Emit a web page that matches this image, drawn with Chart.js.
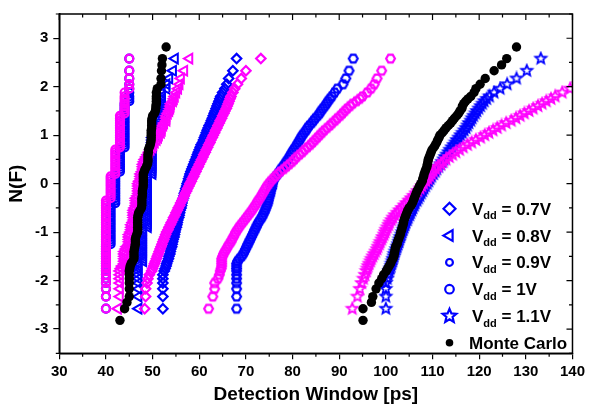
<!DOCTYPE html>
<html>
<head>
<meta charset="utf-8">
<script src="https://cdn.jsdelivr.net/npm/chart.js@4/dist/chart.umd.min.js"></script>
<style>
  html, body { margin: 0; padding: 0; background: #fff; }
  #wrap { width: 589px; height: 408px; }
</style>
</head>
<body>
<div id="wrap"><canvas id="chart" width="589" height="408"></canvas></div>
<script>
// Normal quantile levels N(F) shared by the Vdd series
const nLevels = [
  -2.58, -2.33, -2.17, -2.05, -1.96, -1.88, -1.8, -1.75, -1.7, -1.65,
  -1.6, -1.55, -1.5, -1.45, -1.4, -1.35, -1.3, -1.25, -1.2, -1.15,
  -1.1, -1.05, -1.0, -0.95, -0.9, -0.85, -0.8, -0.75, -0.7, -0.65,
  -0.6, -0.55, -0.5, -0.45, -0.4, -0.35, -0.3, -0.25, -0.2, -0.15,
  -0.1, -0.05, 0, 0.05, 0.1, 0.15, 0.2, 0.25, 0.3, 0.35,
  0.4, 0.45, 0.5, 0.55, 0.6, 0.65, 0.7, 0.75, 0.8, 0.85,
  0.9, 0.95, 1.0, 1.05, 1.1, 1.15, 1.2, 1.25, 1.3, 1.35,
  1.4, 1.45, 1.5, 1.55, 1.6, 1.65, 1.7, 1.75, 1.8, 1.88,
  1.96, 2.05, 2.17, 2.33, 2.58
];

// Monte Carlo has a few more points in the tails
const mcLevels = [
  -2.82, -2.58, -2.45, -2.33, -2.17, -2.05, -1.96, -1.88, -1.8, -1.75,
  -1.7, -1.65, -1.6, -1.55, -1.5, -1.45, -1.4, -1.35, -1.3, -1.25,
  -1.2, -1.15, -1.1, -1.05, -1.0, -0.95, -0.9, -0.85, -0.8, -0.75,
  -0.7, -0.65, -0.6, -0.55, -0.5, -0.45, -0.4, -0.35, -0.3, -0.25,
  -0.2, -0.15, -0.1, -0.05, 0, 0.05, 0.1, 0.15, 0.2, 0.25,
  0.3, 0.35, 0.4, 0.45, 0.5, 0.55, 0.6, 0.65, 0.7, 0.75,
  0.8, 0.85, 0.9, 0.95, 1.0, 1.05, 1.1, 1.15, 1.2, 1.25,
  1.3, 1.35, 1.4, 1.45, 1.5, 1.55, 1.6, 1.65, 1.7, 1.75,
  1.8, 1.88, 1.96, 2.05, 2.17, 2.33, 2.45, 2.58, 2.82
];

// detection window [ps] per level
const vdd07Blue = [
  52.2, 52.2, 52.2, 52.2, 52.2, 52.2, 52.5, 52.7, 52.9, 53.0,
  53.2, 53.4, 53.5, 53.7, 53.8, 53.9, 54.1, 54.2, 54.3, 54.4,
  54.6, 54.7, 54.8, 54.9, 55.1, 55.2, 55.3, 55.4, 55.6, 55.7,
  55.8, 55.9, 56.1, 56.2, 56.3, 56.4, 56.6, 56.7, 56.8, 57.0,
  57.1, 57.3, 57.4, 57.6, 57.7, 57.9, 58.0, 58.2, 58.4, 58.6,
  58.8, 59.0, 59.2, 59.4, 59.6, 59.8, 60.0, 60.2, 60.4, 60.7,
  60.9, 61.1, 61.3, 61.5, 61.7, 61.9, 62.1, 62.4, 62.6, 62.8,
  63.0, 63.2, 63.4, 63.6, 63.8, 64.0, 64.2, 64.4, 64.6, 65.0,
  65.5, 65.9, 66.3, 67.2, 68
];
const vdd07Magenta = [
  48.3, 48.5, 48.5, 48.8, 49.0, 49.3, 49.8, 50.0, 50.2, 50.4,
  50.6, 50.8, 51.0, 51.2, 51.4, 51.6, 51.8, 52.0, 52.2, 52.4,
  52.6, 52.8, 53.0, 53.3, 53.5, 53.8, 54.0, 54.3, 54.5, 54.8,
  55.0, 55.3, 55.5, 55.8, 56.0, 56.3, 56.5, 56.8, 57.0, 57.3,
  57.5, 57.8, 58.0, 58.3, 58.5, 58.8, 59.0, 59.3, 59.5, 59.8,
  60.0, 60.3, 60.5, 60.8, 61.0, 61.3, 61.5, 61.8, 62.0, 62.3,
  62.5, 62.8, 63.0, 63.3, 63.5, 63.8, 64.0, 64.3, 64.5, 64.8,
  65.0, 65.3, 65.5, 65.8, 66.0, 66.2, 66.4, 66.6, 66.8, 67.2,
  67.6, 68.2, 69.0, 70.0, 73.2
];
const vdd08Blue = [
  47, 47, 47, 47, 47, 47, 47, 47, 47, 47,
  48, 48, 48, 48, 48, 48, 48, 48, 48, 48,
  48, 48, 48, 48, 49, 49, 49, 49, 49, 49,
  49, 49, 49, 49, 49, 49, 49, 49, 49, 49,
  49, 49, 49, 49, 49, 49, 50, 50, 50, 50,
  50, 50, 50, 50, 50, 50, 50, 50, 50, 50,
  50, 50, 51, 51, 51, 51, 51, 51, 51, 51,
  52, 52, 52, 52, 52, 52, 52, 52, 52, 52,
  53, 53, 53.6, 54.4, 54.8
];
const vdd08Magenta = [
  42.6, 43, 43, 43, 43, 43, 43, 43.3, 43.5, 44,
  44, 44, 44, 44, 44, 44.3, 44.5, 45, 45, 45,
  45, 45, 45.3, 45.5, 45.5, 45.5, 45.8, 46, 46, 46,
  46, 46, 46.2, 46.5, 46.5, 46.5, 46.5, 46.8, 47, 47,
  47, 47, 47, 47.2, 47.5, 47.5, 47.5, 47.8, 48, 48,
  48, 48.2, 48.4, 48.7, 49, 49.3, 49.6, 50, 50.2, 50.5,
  50.9, 51.2, 51.4, 51.8, 52, 52, 52.3, 52.5, 53, 53,
  53, 53.3, 53.6, 53.8, 53.9, 54, 54.4, 54.6, 54.8, 55.1,
  55.5, 55.8, 56.1, 56.8, 57.9
];
const vdd09Blue = [
  40, 40, 40, 40, 40, 40, 40, 40, 40, 40,
  40, 40, 40, 40, 40, 40, 40, 41, 41, 41,
  41, 41, 41, 41, 41, 41, 41, 41, 41, 41,
  41, 41, 41, 41, 42, 42, 42, 42, 42, 42,
  42, 42, 42, 42, 42, 42, 42, 43, 43, 43,
  43, 43, 43, 43, 43, 43, 43, 44, 44, 44,
  44, 44, 44, 44, 44, 44, 44, 44, 44, 44,
  44, 44, 44, 44, 44, 44, 45, 45, 45, 45,
  45, 45, 45, 45, 45
];
const vdd09Magenta = [
  40, 40, 40, 40, 40, 40, 40, 40, 40, 40,
  40, 40, 40, 40, 40, 40, 40, 40, 40, 40,
  40, 40, 40, 40, 40, 40, 40, 40, 40, 40,
  40, 40, 40, 40, 40, 40, 41, 41, 41, 41,
  41, 41, 41, 41, 41, 41, 42, 42, 42, 42,
  42, 42, 42, 42, 42, 42, 42, 43, 43, 43,
  43, 43, 43, 43, 43, 43, 43, 43, 43, 43,
  43, 44, 44, 44, 44, 44, 44, 44, 44, 44,
  45, 45, 45, 45, 45
];
const vdd10Blue = [
  68, 68, 68, 68, 68, 68, 68, 68, 68, 68,
  68.2, 68.6, 69.1, 69.4, 69.7, 69.9, 70.2, 70.4, 70.7, 70.9,
  71.2, 71.4, 71.7, 71.9, 72.2, 72.4, 72.7, 73.0, 73.4, 73.6,
  73.9, 74.1, 74.3, 74.5, 74.7, 74.8, 74.9, 75.1, 75.2, 75.3,
  75.5, 75.6, 75.7, 75.8, 76.1, 76.4, 76.8, 77.2, 77.5, 77.9,
  78.3, 78.6, 79.0, 79.3, 79.6, 79.9, 80.2, 80.6, 80.9, 81.2,
  81.5, 81.8, 82.1, 82.5, 82.9, 83.2, 83.6, 84.1, 84.5, 84.9,
  85.4, 85.8, 86.1, 86.5, 86.9, 87.3, 87.6, 88.0, 88.4, 89.0,
  89.6, 90.8, 91.4, 92.1, 93
];
const vdd10Magenta = [
  62, 62.9, 63.3, 63.3, 64, 64.3, 64.5, 64.7, 64.8, 64.8,
  64.8, 64.8, 65.0, 65.2, 65.5, 65.8, 66.1, 66.4, 66.8, 67.0,
  67.3, 67.6, 67.8, 68.2, 68.5, 68.9, 69.3, 69.7, 70.1, 70.5,
  70.9, 71.3, 71.6, 72.0, 72.3, 72.6, 73.0, 73.3, 73.6, 73.9,
  74.2, 74.5, 74.9, 75.3, 75.8, 76.3, 76.8, 77.4, 78.1, 78.7,
  79.3, 79.9, 80.4, 80.9, 81.5, 82.1, 82.6, 83.2, 83.8, 84.3,
  84.8, 85.3, 85.8, 86.3, 86.8, 87.4, 88.0, 88.5, 89.1, 89.6,
  90.2, 90.7, 91.2, 91.7, 92.3, 92.9, 93.7, 94.4, 95.0, 96.0,
  96.8, 97.5, 98.1, 99.1, 101
];
const vdd11Blue = [
  100, 100, 100, 100, 100.3, 100.5, 100.7, 100.9, 101.1, 101.2,
  101.4, 101.5, 101.7, 101.8, 102.0, 102.2, 102.4, 102.6, 102.8, 102.9,
  103.1, 103.3, 103.5, 103.7, 103.9, 104.1, 104.3, 104.6, 104.8, 105.1,
  105.3, 105.6, 105.8, 106.1, 106.3, 106.7, 107.0, 107.3, 107.6, 107.9,
  108.2, 108.5, 108.9, 109.2, 109.5, 109.8, 110.2, 110.6, 110.9, 111.3,
  111.7, 112.0, 112.4, 112.7, 113.0, 113.4, 113.7, 114.1, 114.5, 114.9,
  115.2, 115.6, 116.0, 116.4, 116.8, 117.2, 117.5, 117.8, 118.2, 118.5,
  118.8, 119.2, 119.5, 119.9, 120.3, 120.7, 121.1, 121.6, 122.2, 123.2,
  124.5, 126, 128, 130.2, 133.2
];
const vdd11Magenta = [
  92.8, 93.9, 94.4, 94.8, 95.2, 95.5, 95.8, 96.0, 96.2, 96.4,
  96.7, 96.9, 97.2, 97.5, 97.8, 98.1, 98.3, 98.6, 98.8, 99.1,
  99.3, 99.6, 99.8, 100.0, 100.3, 100.6, 100.8, 101.2, 101.5, 101.9,
  102.4, 102.9, 103.4, 103.9, 104.4, 104.9, 105.4, 105.9, 106.4, 106.8,
  107.3, 107.7, 108.1, 108.6, 109.0, 109.4, 109.8, 110.2, 110.7, 111.2,
  111.8, 112.3, 112.9, 113.6, 114.3, 115.0, 115.8, 116.6, 117.5, 118.4,
  119.3, 120.3, 121.2, 122.1, 123.0, 123.9, 124.8, 125.8, 126.9, 127.9,
  128.8, 129.7, 130.7, 131.6, 132.6, 133.5, 134.4, 135.4, 136.3, 137.8,
  139.5, 141.2, 143.5, 146, 150
];
const mcLow = [
  43, 44, 44.5, 45, 45, 45, 45, 45, 45, 45.1,
  45.2, 45.4, 45.7, 46, 46, 46, 46, 46.1, 46.2, 46.3,
  46.3, 46.3, 46.4, 46.6, 46.8, 46.8, 46.8, 46.8, 46.8, 46.8,
  46.8, 46.9, 47, 47.3, 47.6, 47.7, 47.7, 47.7, 47.7, 47.8,
  47.8, 47.8, 47.9, 48, 48, 48, 48, 48, 48, 48.2,
  48.4, 48.7, 48.9, 49, 49, 49, 49, 49.1, 49.1, 49.3,
  49.5, 49.6, 49.7, 49.7, 49.7, 49.7, 49.7, 49.8, 49.8, 49.8,
  49.8, 49.9, 50, 50.4, 50.6, 50.7, 50.7, 50.8, 50.8, 50.8,
  50.8, 50.8, 51, 51.8, 51.8, 51.9, 52, 52.1, 52.9
];
const mcHigh = [
  95.1, 95.1, 96.9, 97.2, 97.9, 98.5, 99.1, 99.5, 100.1, 100.4,
  100.7, 101, 101.2, 101.5, 101.7, 101.8, 101.9, 102, 102.1, 102.4,
  102.5, 102.7, 102.9, 103.1, 103.2, 103.4, 103.5, 103.7, 103.8, 103.9,
  104.1, 104.3, 104.5, 104.7, 105, 105.4, 105.7, 105.9, 106.1, 106.3,
  106.5, 106.7, 107, 107.2, 107.5, 107.8, 107.9, 108.1, 108.2, 108.4,
  108.6, 108.8, 108.9, 109, 109.1, 109.3, 109.5, 109.7, 109.9, 110.3,
  110.6, 110.9, 111.1, 111.4, 111.6, 112.1, 112.5, 112.9, 113.4, 113.9,
  114.3, 114.7, 115.2, 115.6, 115.9, 116.3, 116.4, 116.7, 117.1, 117.6,
  118.2, 118.9, 119.3, 120.2, 121.3, 123.2, 124.8, 125.9, 128
];

const xTicks = [30, 40, 50, 60, 70, 80, 90, 100, 110, 120, 130, 140];
const yTicks = [-3, -2, -1, 0, 1, 2, 3];
const vddLabels = ['0.7V', '0.8V', '0.9V', '1V', '1.1V'];
const mcLabel = 'Monte Carlo';

const FONT = "'Liberation Sans', Arial, sans-serif";
const BLUE = '#0000ff';
const MAGENTA = '#ff00ff';

// custom marker shapes
function hexPath(g, cx, cy, r) {
  g.beginPath();
  for (let i = 0; i < 6; i++) {
    const a = i * Math.PI / 3;
    g.lineTo(cx + r * Math.cos(a), cy + r * Math.sin(a));
  }
  g.closePath();
}
function starPath(g, cx, cy, r) {
  g.beginPath();
  for (let i = 0; i < 10; i++) {
    const a = -Math.PI / 2 + i * Math.PI / 5;
    const rr = i % 2 ? r * 0.45 : r;
    g.lineTo(cx + rr * Math.cos(a), cy + rr * Math.sin(a));
  }
  g.closePath();
}
function markerCanvas(pathFn, r, color, lw) {
  const c = document.createElement('canvas');
  const s = Math.ceil(2 * r + lw + 2);
  c.width = s;
  c.height = s;
  const g = c.getContext('2d');
  g.strokeStyle = color;
  g.lineWidth = lw;
  pathFn(g, s / 2, s / 2, r);
  g.stroke();
  return c;
}

const hexBlue = markerCanvas(hexPath, 4.4, BLUE, 2.2);
const hexMagenta = markerCanvas(hexPath, 4.4, MAGENTA, 2.2);
const starBlue = markerCanvas(starPath, 5.7, BLUE, 1.8);
const starMagenta = markerCanvas(starPath, 5.7, MAGENTA, 1.8);

const pts = (xs, ys) => xs.map((x, i) => ({ x, y: ys[i] }));

function series(label, xs, color, style, radius, extra) {
  return Object.assign({
    label,
    data: pts(xs, nLevels),
    pointStyle: style,
    pointRadius: radius,
    pointBorderWidth: 2.2,
    pointBorderColor: color,
    pointBackgroundColor: 'rgba(0,0,0,0)',
    showLine: false,
    clip: 0,
  }, extra || {});
}

// first dataset is drawn on top: Monte Carlo, then magenta, then blue
const datasets = [
  {
    label: mcLabel,
    data: pts(mcLow, mcLevels).concat(pts(mcHigh, mcLevels)),
    pointStyle: 'circle',
    pointRadius: 4.7,
    pointBorderWidth: 0,
    pointBackgroundColor: '#000',
    showLine: false,
    clip: 0,
  },
  series('0.7V m', vdd07Magenta, MAGENTA, 'rectRot', 4.7),
  series('0.8V m', vdd08Magenta, MAGENTA, 'triangle', 5.6, { pointRotation: -90, pointBorderWidth: 2 }),
  series('0.9V m', vdd09Magenta, MAGENTA, 'circle', 4),
  series('1V m', vdd10Magenta, MAGENTA, hexMagenta, 5),
  series('1.1V m', vdd11Magenta, MAGENTA, starMagenta, 5),
  series('0.7V', vdd07Blue, BLUE, 'rectRot', 4.7),
  series('0.8V', vdd08Blue, BLUE, 'triangle', 5.6, { pointRotation: -90, pointBorderWidth: 2 }),
  series('0.9V', vdd09Blue, BLUE, 'circle', 4),
  series('1V', vdd10Blue, BLUE, hexBlue, 5),
  series('1.1V', vdd11Blue, BLUE, starBlue, 5),
];

// box frame with inward ticks on top/right, minor ticks outside bottom/left
const framePlugin = {
  id: 'frame',
  afterDatasetsDraw(chart) {
    const { ctx, chartArea: a, scales: { x, y } } = chart;
    ctx.save();
    ctx.strokeStyle = '#000';
    ctx.lineWidth = 1.5;
    ctx.strokeRect(a.left, a.top, a.right - a.left, a.bottom - a.top);
    ctx.lineWidth = 1.2;
    ctx.beginPath();
    for (let v = 30; v <= 140; v += 5) {
      const px = x.getPixelForValue(v);
      const major = v % 10 === 0;
      const len = major ? 6 : 3.5;
      ctx.moveTo(px, a.top);
      ctx.lineTo(px, a.top + len);
      if (!major) {
        ctx.moveTo(px, a.bottom);
        ctx.lineTo(px, a.bottom + len);
      }
    }
    for (let v = -3.5; v <= 3.5; v += 0.5) {
      const py = y.getPixelForValue(v);
      const major = Number.isInteger(v);
      const len = major ? 6 : 3.5;
      ctx.moveTo(a.right, py);
      ctx.lineTo(a.right - len, py);
      if (!major) {
        ctx.moveTo(a.left, py);
        ctx.lineTo(a.left - len, py);
      }
    }
    ctx.stroke();
    ctx.restore();
  }
};

// legend with subscripted V_dd, drawn by hand
const legendPlugin = {
  id: 'vddLegend',
  afterDraw(chart) {
    const ctx = chart.ctx;
    const mx = 449.5, tx = 472, y0 = 208.8, dy = 26.8;
    ctx.save();
    ctx.strokeStyle = BLUE;
    ctx.lineWidth = 2.2;
    vddLabels.forEach((lab, i) => {
      const cy = y0 + i * dy;
      ctx.beginPath();
      if (i === 0) {
        const r = 6;
        ctx.moveTo(mx, cy - r); ctx.lineTo(mx + r, cy);
        ctx.lineTo(mx, cy + r); ctx.lineTo(mx - r, cy);
        ctx.closePath();
      } else if (i === 1) {
        const r = 6.2;
        ctx.moveTo(mx - r, cy);
        ctx.lineTo(mx + r / 2, cy - r * 0.866);
        ctx.lineTo(mx + r / 2, cy + r * 0.866);
        ctx.closePath();
      } else if (i === 2) {
        ctx.arc(mx, cy, 3.4, 0, Math.PI * 2);
      } else if (i === 3) {
        ctx.arc(mx, cy, 4.3, 0, Math.PI * 2);
      } else {
        starPath(ctx, mx, cy, 7.2);
      }
      ctx.stroke();

      ctx.fillStyle = '#000';
      ctx.textBaseline = 'alphabetic';
      ctx.font = 'bold 17px ' + FONT;
      const base = cy + 6;
      ctx.fillText('V', tx, base);
      let xx = tx + ctx.measureText('V').width;
      ctx.font = 'bold 11px ' + FONT;
      ctx.fillText('dd', xx, base + 4.5);
      xx += ctx.measureText('dd').width;
      ctx.font = 'bold 17px ' + FONT;
      ctx.fillText(' = ' + lab, xx, base);
    });
    const cy = y0 + 5 * dy;
    ctx.fillStyle = '#000';
    ctx.beginPath();
    ctx.arc(mx, cy, 3.8, 0, Math.PI * 2);
    ctx.fill();
    ctx.font = 'bold 17px ' + FONT;
    ctx.fillText(mcLabel, tx - 3, cy + 6);
    ctx.restore();
  }
};

const tickFont = { family: FONT, size: 15, weight: 'bold' };
const titleFont = { family: FONT, size: 19, weight: 'bold' };
const axisGrid = { display: true, drawOnChartArea: false, drawTicks: true, tickLength: 6, color: '#000', lineWidth: 1.2 };
const axisBorder = { display: true, color: '#000', width: 1.5 };

new Chart(document.getElementById('chart'), {
  type: 'scatter',
  data: { datasets },
  options: {
    responsive: false,
    animation: false,
    devicePixelRatio: 1,
    events: [],
    layout: { padding: { left: 0, right: 14.7, top: 9.3, bottom: 0 } },
    plugins: { legend: { display: false }, tooltip: { enabled: false } },
    scales: {
      x: {
        type: 'linear',
        min: 30,
        max: 140,
        afterBuildTicks: (ax) => { ax.ticks = xTicks.map(v => ({ value: v })); },
        afterFit: (s) => { s.height = 54.7; },
        ticks: { color: '#000', font: tickFont, padding: 4, maxRotation: 0, autoSkip: false },
        title: { display: true, text: 'Detection Window [ps]', color: '#000', font: titleFont, padding: { top: 0, bottom: 2 } },
        grid: axisGrid,
        border: axisBorder,
      },
      y: {
        type: 'linear',
        min: -3.5,
        max: 3.5,
        afterBuildTicks: (ax) => { ax.ticks = yTicks.map(v => ({ value: v })); },
        afterFit: (s) => { s.width = 59.3; },
        ticks: { color: '#000', font: tickFont, padding: 5 },
        title: { display: true, text: 'N(F)', color: '#000', font: titleFont, padding: { top: 5, bottom: 0 } },
        grid: axisGrid,
        border: axisBorder,
      },
    },
  },
  plugins: [framePlugin, legendPlugin],
});
</script>
</body>
</html>
